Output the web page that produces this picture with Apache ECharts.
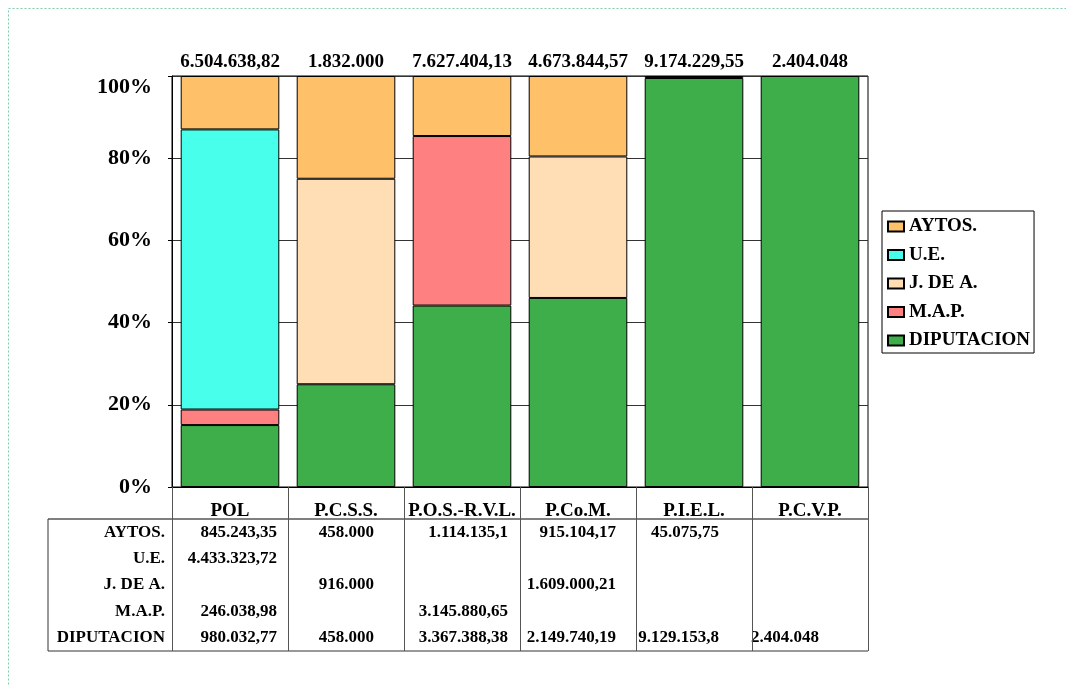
<!DOCTYPE html>
<html>
<head>
<meta charset="utf-8">
<script src="https://cdn.jsdelivr.net/npm/echarts@6/dist/echarts.min.js"></script>
<style>
  html, body { margin: 0; padding: 0; background: #fff; }
  #chart { width: 1066px; height: 685px; }
</style>
</head>
<body>
<div id="chart"></div>
<script>
// datos por programa
const categories = ['POL', 'P.C.S.S.', 'P.O.S.-R.V.L.', 'P.Co.M.', 'P.I.E.L.', 'P.C.V.P.'];
const seriesNames = ['AYTOS.', 'U.E.', 'J. DE A.', 'M.A.P.', 'DIPUTACION'];
const aytos = [845243.35, 458000, 1114135.1, 915104.17, 45075.75, null];
const ue = [4433323.72, null, null, null, null, null];
const jdeA = [null, 916000, null, 1609000.21, null, null];
const map = [246038.98, null, 3145880.65, null, null, null];
const diputacion = [980032.77, 458000, 3367388.38, 2149740.19, 9129153.8, 2404048];
const yTickLabels = ['0%', '20%', '40%', '60%', '80%', '100%'];

const colors = {
  'AYTOS.': '#FFC06A',
  'U.E.': '#48FFEC',
  'J. DE A.': '#FFDEB5',
  'M.A.P.': '#FF8080',
  'DIPUTACION': '#3DAE49'
};
const FONT = '"Liberation Serif", "Times New Roman", serif';

// formato español: 1.234.567,89
function fmtEs(v) {
  const r = Math.round(v * 100) / 100;
  let parts = r.toFixed(2).split('.');
  let ent = parts[0].replace(/\B(?=(\d{3})+(?!\d))/g, '.');
  let dec = parts[1].replace(/0+$/, '');
  return dec ? ent + ',' + dec : ent;
}

const rows = [aytos, ue, jdeA, map, diputacion];
const totals = categories.map((c, i) => rows.reduce((s, r) => s + (r[i] || 0), 0));
const pct = arr => arr.map((v, i) => v == null ? null : v / totals[i] * 100);

const gridLeft = 172, gridTop = 76, gridW = 696, gridH = 411;
const chart = echarts.init(document.getElementById('chart'));

// orden de apilado: de abajo hacia arriba
const stackOrder = [
  ['DIPUTACION', diputacion],
  ['M.A.P.', map],
  ['J. DE A.', jdeA],
  ['U.E.', ue],
  ['AYTOS.', aytos]
];

const option = {
  backgroundColor: '#fff',
  animation: false,
  grid: {
    left: gridLeft, top: gridTop, width: gridW, height: gridH,
    show: true, borderColor: '#000', borderWidth: 1
  },
  legend: {
    data: seriesNames,
    orient: 'vertical',
    left: 882, top: 211,
    padding: [6, 4, 3, 5],
    itemWidth: 16, itemHeight: 10, itemGap: 9.5,
    borderColor: '#000', borderWidth: 1,
    backgroundColor: '#fff',
    textStyle: { fontFamily: FONT, fontWeight: 'bold', fontSize: 19, color: '#000' },
    icon: 'rect'
  },
  xAxis: [
    {
      type: 'category',
      data: categories,
      position: 'bottom',
      axisLine: { lineStyle: { color: '#000', width: 1 } },
      axisTick: { show: true, length: 164, interval: 0, lineStyle: { color: '#555', width: 1 } },
      axisLabel: { interval: 0, margin: 15, fontFamily: FONT, fontWeight: 'bold', fontSize: 19, color: '#000' }
    },
    {
      type: 'category',
      data: categories,
      position: 'top',
      axisLine: { show: false },
      axisTick: { show: false },
      axisLabel: {
        interval: 0, margin: 4,
        formatter: (v, idx) => fmtEs(totals[idx]),
        fontFamily: FONT, fontWeight: 'bold', fontSize: 19, color: '#000'
      }
    }
  ],
  yAxis: {
    type: 'value',
    min: 0, max: 100, interval: 20,
    axisLine: { show: true, lineStyle: { color: '#000' } },
    axisTick: { show: true, length: 4, lineStyle: { color: '#000' } },
    splitLine: { lineStyle: { color: '#333', width: 1 } },
    axisLabel: {
      margin: 20,
      formatter: v => v === 100 ? '{top|' + yTickLabels[5] + '}' : yTickLabels[Math.round(v / 20)],
      fontFamily: FONT, fontWeight: 'bold', fontSize: 22, color: '#000',
      rich: { top: { padding: [22, 0, 0, 0], fontFamily: FONT, fontWeight: 'bold', fontSize: 22, color: '#000' } }
    }
  },
  series: stackOrder.map(([name, arr]) => ({
    name: name,
    type: 'bar',
    stack: 'total',
    xAxisIndex: 0,
    barWidth: '85%',
    data: pct(arr),
    itemStyle: { color: colors[name], borderColor: '#000', borderWidth: 1 }
  }))
};
chart.setOption(option);

// tabla de datos bajo el gráfico
const colW = gridW / categories.length;
const colInset = [11, 30, 12, 20, 33, 49];
const rowY = [533, 559, 585, 611.5, 638];
const tableTop = 519, tableBottom = 651, tableLeft = 48;
const txt = (x, y, s, align, size) => ({
  type: 'text', x: x, y: y,
  style: {
    text: s, textAlign: align, textVerticalAlign: 'middle',
    font: 'bold ' + size + 'px ' + FONT, fill: '#000'
  }
});
const line = (x1, y1, x2, y2, color) => ({
  type: 'line', shape: { x1: x1, y1: y1, x2: x2, y2: y2 },
  style: { stroke: color || '#000', lineWidth: 1 }
});

const graphics = [
  {
    type: 'rect', shape: { x: 8.5, y: 8.5, width: 1080, height: 700 },
    style: { fill: 'none', stroke: '#7CCFA6', lineWidth: 1, lineDash: [2, 2] }
  },
  line(tableLeft, tableTop, gridLeft + gridW, tableTop),
  line(tableLeft, tableBottom, gridLeft + gridW, tableBottom, '#333'),
  line(tableLeft, tableTop, tableLeft, tableBottom, '#333')
];
seriesNames.forEach((name, r) => {
  graphics.push(txt(165, rowY[r], name, 'right', 17));
  rows[r].forEach((v, c) => {
    if (v == null) return;
    const cx = chart.convertToPixel({ xAxisIndex: 0 }, c);
    graphics.push(txt(cx + colW / 2 - colInset[c], rowY[r], fmtEs(v), 'right', 17));
  });
});
chart.setOption({ graphic: graphics });
</script>
</body>
</html>
